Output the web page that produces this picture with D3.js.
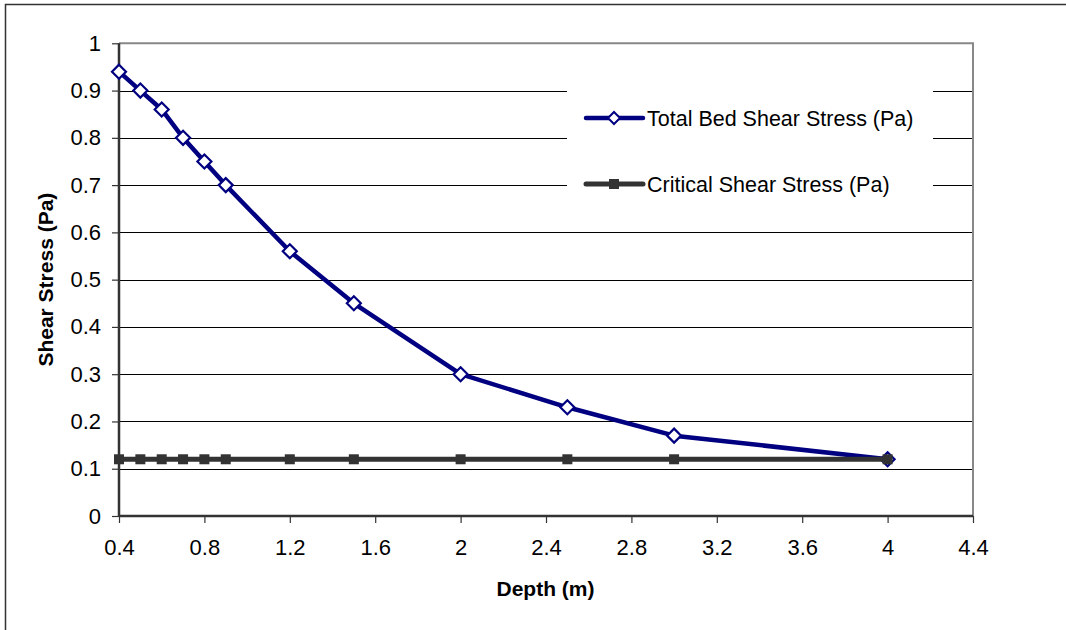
<!DOCTYPE html>
<html>
<head>
<meta charset="utf-8">
<script src="https://cdn.jsdelivr.net/npm/d3@7"></script>
<style>
  html, body { margin: 0; padding: 0; background: #fff; }
  svg { display: block; font-family: "Liberation Sans", Arial, sans-serif; }
</style>
</head>
<body>
<svg id="chart" width="1066" height="630"></svg>
<script>
// Depth values (m) shared by both series
const depths = [0.4, 0.5, 0.6, 0.7, 0.8, 0.9, 1.2, 1.5, 2, 2.5, 3, 4];
// Total bed shear stress (Pa) at each depth
const totalStress = [0.94, 0.90, 0.86, 0.80, 0.75, 0.70, 0.56, 0.45, 0.30, 0.23, 0.17, 0.12];
// Critical shear stress (Pa), constant
const criticalStress = [0.12, 0.12, 0.12, 0.12, 0.12, 0.12, 0.12, 0.12, 0.12, 0.12, 0.12, 0.12];
// Axis ticks
const xTicks = [0.4, 0.8, 1.2, 1.6, 2, 2.4, 2.8, 3.2, 3.6, 4, 4.4];
const yTicks = [0, 0.1, 0.2, 0.3, 0.4, 0.5, 0.6, 0.7, 0.8, 0.9, 1];
const seriesNames = ["Total Bed Shear Stress (Pa)", "Critical Shear Stress (Pa)"];

const svg = d3.select("#chart");
const plot = { left: 119, right: 973, top: 43.3, bottom: 516 };

// Outer chart border
svg.append("rect")
  .attr("x", 5.5).attr("y", 4.5)
  .attr("width", 1080).attr("height", 650)
  .attr("fill", "#fff").attr("stroke", "#333").attr("stroke-width", 1.5);

const x = d3.scaleLinear().domain([0.4, 4.4]).range([plot.left, plot.right]);
const y = d3.scaleLinear().domain([0, 1]).range([plot.bottom, plot.top]);

// Horizontal gridlines
svg.append("g")
  .selectAll("line")
  .data(yTicks.filter(d => d > 0 && d < 1))
  .join("line")
  .attr("x1", plot.left).attr("x2", plot.right)
  .attr("y1", d => Math.round(y(d)) + 0.5).attr("y2", d => Math.round(y(d)) + 0.5)
  .attr("stroke", "#000").attr("stroke-width", 1);

// Plot area top/right border
svg.append("path")
  .attr("d", `M${plot.left},${plot.top}H${plot.right}V${plot.bottom}`)
  .attr("fill", "none").attr("stroke", "#888").attr("stroke-width", 2);

// Axes
const fontSize = "22px";
const xAxis = svg.append("g")
  .attr("transform", `translate(0,${plot.bottom})`)
  .call(d3.axisBottom(x).tickValues(xTicks).tickSize(7).tickPadding(16)
    .tickFormat(d3.format("~g")));
const yAxis = svg.append("g")
  .attr("transform", `translate(${plot.left},0)`)
  .call(d3.axisLeft(y).tickValues(yTicks).tickSize(7).tickPadding(11)
    .tickFormat(d3.format("~g")));

[xAxis, yAxis].forEach(g => {
  g.select(".domain").attr("stroke", "#333").attr("stroke-width", 2.5);
  g.selectAll(".tick line").attr("stroke", "#333").attr("stroke-width", 1.2);
  g.selectAll(".tick text")
    .attr("fill", "#000")
    .style("font-size", fontSize)
    .style("font-family", "'Liberation Sans', Arial, sans-serif");
});
xAxis.select(".domain").attr("d", `M${plot.left},0H${plot.right}`);
yAxis.select(".domain").attr("d", `M0,${plot.top}V${plot.bottom}`);

// Axis titles
svg.append("text")
  .attr("x", (plot.left + plot.right) / 2 - 0.5).attr("y", 596)
  .attr("text-anchor", "middle")
  .style("font-size", "21px").style("font-weight", "bold")
  .text("Depth (m)");
svg.append("text")
  .attr("transform", `translate(53,${(plot.top + plot.bottom) / 2}) rotate(-90)`)
  .attr("text-anchor", "middle")
  .style("font-size", "21px").style("font-weight", "bold")
  .text("Shear Stress (Pa)");

const line = d3.line().x(d => x(d[0])).y(d => y(d[1]));
const totalPts = depths.map((d, i) => [d, totalStress[i]]);
const critPts = depths.map((d, i) => [d, criticalStress[i]]);

const navy = "#000080";
const gray = "#333333";
const diamond = (cx, cy, r) => `M${cx},${cy - r}L${cx + r},${cy}L${cx},${cy + r}L${cx - r},${cy}Z`;

// Total bed shear stress series
svg.append("path").datum(totalPts)
  .attr("d", line).attr("fill", "none")
  .attr("stroke", navy).attr("stroke-width", 4.5).attr("stroke-linejoin", "round");
svg.append("g").selectAll("path")
  .data(totalPts).join("path")
  .attr("d", d => diamond(x(d[0]), y(d[1]), 7))
  .attr("fill", "#fff").attr("stroke", navy).attr("stroke-width", 2.2);

// Critical shear stress series
svg.append("path").datum(critPts)
  .attr("d", line).attr("fill", "none")
  .attr("stroke", gray).attr("stroke-width", 5);
svg.append("g").selectAll("rect")
  .data(critPts).join("rect")
  .attr("x", d => x(d[0]) - 5).attr("y", d => y(d[1]) - 5)
  .attr("width", 10).attr("height", 10)
  .attr("fill", gray);

// Legend
const legend = svg.append("g");
legend.append("rect")
  .attr("x", 567).attr("y", 76).attr("width", 366).attr("height", 134)
  .attr("fill", "#fff");
const entries = [
  { name: seriesNames[0], y: 118, color: navy, marker: "diamond" },
  { name: seriesNames[1], y: 184, color: gray, marker: "square" }
];
entries.forEach(e => {
  legend.append("line")
    .attr("x1", 586).attr("x2", 643).attr("y1", e.y).attr("y2", e.y)
    .attr("stroke", e.color).attr("stroke-width", e.marker === "diamond" ? 4.5 : 5)
    .attr("stroke-linecap", "round");
  if (e.marker === "diamond") {
    legend.append("path").attr("d", diamond(614, e.y, 6))
      .attr("fill", "#fff").attr("stroke", navy).attr("stroke-width", 2);
  } else {
    legend.append("rect").attr("x", 609).attr("y", e.y - 5)
      .attr("width", 10).attr("height", 10).attr("fill", gray);
  }
  legend.append("text")
    .attr("x", 647).attr("y", e.y).attr("dy", "0.35em")
    .style("font-size", "21.5px")
    .text(e.name);
});
</script>
</body>
</html>
